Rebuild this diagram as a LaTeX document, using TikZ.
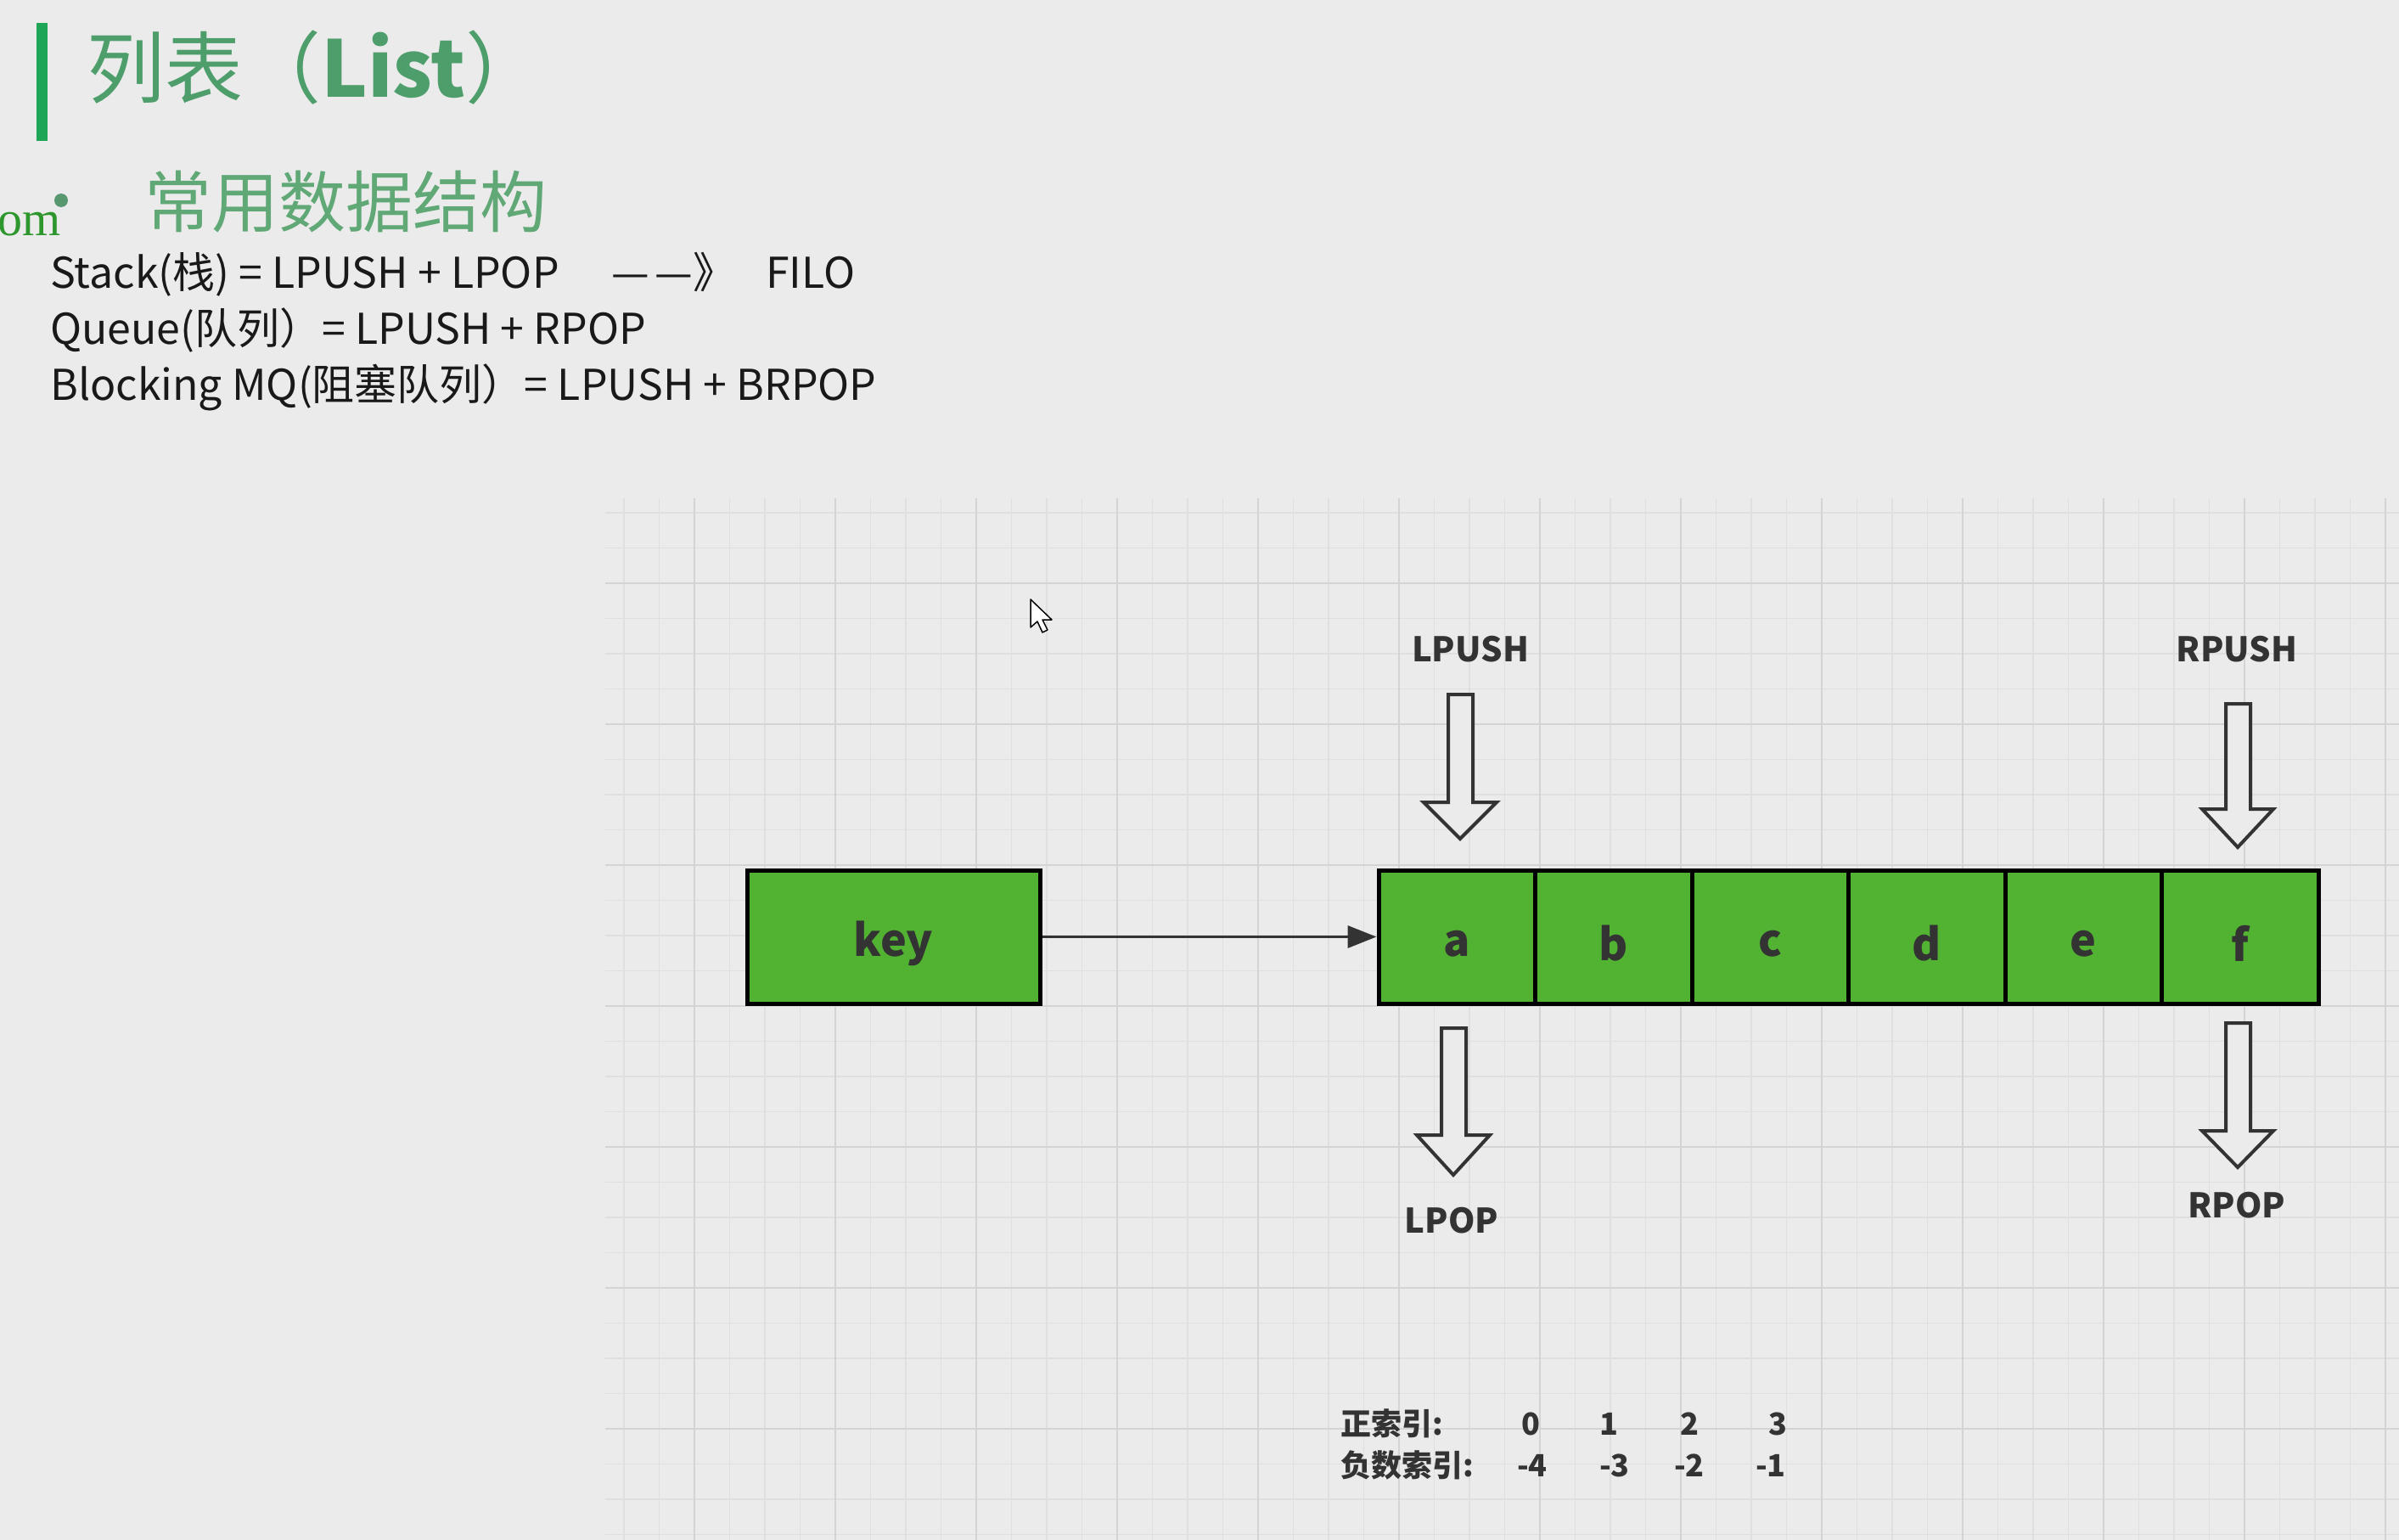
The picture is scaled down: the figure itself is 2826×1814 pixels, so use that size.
\documentclass[tikz,border=0pt]{standalone}
\usepackage{fontspec}
\setmainfont{Noto Sans CJK SC}
\newfontfamily\omserif{Liberation Serif}
\usetikzlibrary{arrows.meta}
\definecolor{bg}{RGB}{235,235,235}
\definecolor{gridminor}{RGB}{223,223,223}
\definecolor{gridmajor}{RGB}{212,212,212}
\definecolor{cellgreen}{RGB}{82,179,50}
\definecolor{ink}{RGB}{51,51,51}
\definecolor{titlegreen}{RGB}{78,158,108}
\definecolor{bargreen}{RGB}{30,165,85}
\definecolor{subgreen}{RGB}{96,168,118}
\definecolor{omgreen}{RGB}{45,150,45}
\definecolor{bodytext}{RGB}{25,25,25}
\tikzset{
  cell/.style={draw=black, line width=5pt, fill=cellgreen, minimum width=184.5pt,
    minimum height=157pt, inner sep=0pt, text=ink, font=\fontsize{52}{60}\selectfont\bfseries},
  keybox/.style={cell, minimum width=345pt},
  celltext/.style={text=ink, inner sep=0pt, yshift=-8pt, font=\fontsize{52}{60}\selectfont\bfseries},
  hollow/.style={draw=ink, line width=4pt, fill=bg, line join=miter},
  oplabel/.style={text=ink, inner sep=0pt, font=\fontsize{40}{48}\selectfont\bfseries},
  bodyline/.style={text=bodytext, anchor=base west, inner sep=0pt, font=\fontsize{50}{58}\selectfont},
  idx/.style={text=ink, anchor=base, inner sep=0pt, font=\fontsize{36}{42}\selectfont\bfseries},
  idxw/.style={idx, anchor=base west},
  link/.style={draw=ink, line width=3.5pt, -{Triangle[length=34pt,width=26pt]}}
}
\begin{document}
\begin{tikzpicture}[x=1pt,y=-1pt]
\useasboundingbox (0,0) rectangle (2826,1814);
\fill[bg] (0,0) rectangle (2826,1814);
% grid
\begin{scope}
\clip (713,587) rectangle (2826,1814);
\foreach \i in {0,...,50} \draw[gridminor, line width=1.5pt] ({735+41.5*\i},587) -- ++(0,1227);
\foreach \i in {0,...,29} \draw[gridminor, line width=1.5pt] (713,{604+41.5*\i}) -- ++(2113,0);
\foreach \i in {0,...,12} \draw[gridmajor, line width=2pt] ({818+166*\i},587) -- ++(0,1227);
\foreach \i in {0,...,7} \draw[gridmajor, line width=2pt] (713,{687+166*\i}) -- ++(2113,0);
\end{scope}
% header
\fill[bargreen] (43,27) rectangle (56,166);
\node[anchor=base west, inner sep=0pt, text=titlegreen, font=\fontsize{92}{100}\selectfont] (title) at (102,115) {列表（\textbf{List}）};
\node[anchor=base east, inner sep=0pt, text=omgreen, font=\omserif\fontsize{58}{60}\selectfont] (om) at (72,277) {om};
\fill[titlegreen!80!gray] (72,236) circle (8);
\node[anchor=base west, inner sep=0pt, text=subgreen, font=\fontsize{79}{86}\selectfont] (sub) at (170,267) {常用数据结构};
\node[bodyline] (l1) at (59,339) {Stack(栈) = LPUSH + LPOP};
\node[bodyline] (l1b) at (720,339) {—\hspace{7pt}—》};
\node[bodyline] (l1c) at (902,339) {FILO};
\node[bodyline] (l2) at (59,405) {Queue(队列）= LPUSH + RPOP};
\node[bodyline] (l3) at (59,471) {Blocking MQ(阻塞队列）= LPUSH + BRPOP};
% cursor
\draw[fill=white, draw=black, line width=1.5pt, line join=round] (1214,706) -- (1214,739) -- (1222,732) -- (1228,745) -- (1234,742) -- (1228,730) -- (1239,730) -- cycle;
% boxes
\node[keybox] (key) at (1052.5,1103.5) {};
\node[cell] (a) at (1716.25,1103.5) {};
\node[cell] (b) at (1900.75,1103.5) {};
\node[cell] (c) at (2085.25,1103.5) {};
\node[cell] (d) at (2269.75,1103.5) {};
\node[cell] (e) at (2454.25,1103.5) {};
\node[cell] (f) at (2638.75,1103.5) {};
\node[celltext] (tkey) at (key) {key};
\node[celltext] (ta) at (a) {a};
\node[celltext] (tb) at (b) {b};
\node[celltext] (tc) at (c) {c};
\node[celltext] (td) at (d) {d};
\node[celltext] (te) at (e) {e};
\node[celltext] (tf) at (f) {f};
\draw[link] (key.east) -- (a.west);
% block arrows
\draw[hollow] (1706,818) -- (1735,818) -- (1735,945) -- (1763,945) -- (1720,988) -- (1677,945) -- (1706,945) -- cycle;
\draw[hollow] (2622,829) -- (2651,829) -- (2651,953) -- (2678,953) -- (2636,998) -- (2594,953) -- (2622,953) -- cycle;
\draw[hollow] (1698,1211) -- (1727,1211) -- (1727,1337) -- (1755,1337) -- (1712,1384) -- (1669,1337) -- (1698,1337) -- cycle;
\draw[hollow] (2622,1205) -- (2651,1205) -- (2651,1332) -- (2678,1332) -- (2636,1375) -- (2594,1332) -- (2622,1332) -- cycle;
\node[oplabel] (lpush) at (1732,765) {LPUSH};
\node[oplabel] (rpush) at (2635,765) {RPUSH};
\node[oplabel] (lpop) at (1710,1438) {LPOP};
\node[oplabel] (rpop) at (2635,1420) {RPOP};
% indices
\node[idxw] (pos) at (1579,1690) {正索引:};
\node[idxw] (neg) at (1579,1739) {负数索引:};
\node[idx] (p0) at (1803,1690) {0};
\node[idx] (p1) at (1895,1690) {1};
\node[idx] (p2) at (1990,1690) {2};
\node[idx] (p3) at (2094,1690) {3};
\node[idx] (n4) at (1805,1739) {-4};
\node[idx] (n3) at (1902,1739) {-3};
\node[idx] (n2) at (1990,1739) {-2};
\node[idx] (n1) at (2086,1739) {-1};
\end{tikzpicture}
\end{document}
